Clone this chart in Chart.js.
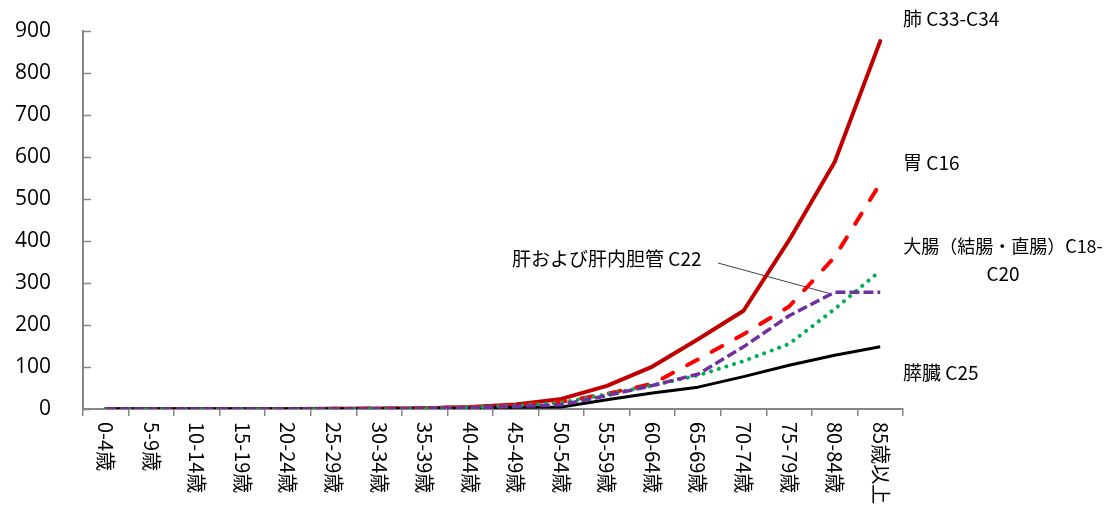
<!DOCTYPE html>
<html>
<head>
<meta charset="utf-8">
<script src="https://cdn.jsdelivr.net/npm/chart.js@4.4.1/dist/chart.umd.min.js"></script>
<style>
  body { margin: 0; background: #fff; }
  #wrap { width: 1112px; height: 512px; position: relative; }
</style>
</head>
<body>
<div id="wrap"><canvas id="chart"></canvas></div>
<script>
// age groups and rates (per 100,000)
const ageGroups = ['0-4歳', '5-9歳', '10-14歳', '15-19歳', '20-24歳', '25-29歳', '30-34歳', '35-39歳', '40-44歳',
  '45-49歳', '50-54歳', '55-59歳', '60-64歳', '65-69歳', '70-74歳', '75-79歳', '80-84歳', '85歳以上'];

const lung       = [0, 0, 0, 0, 0, 0.5, 1, 2, 5, 11, 24, 55, 101, 166, 234, 402, 588, 876];
const stomach    = [0, 0, 0, 0, 0, 0.5, 1, 2, 4, 8, 17, 36, 60, 118, 178, 244, 362, 537];
const colorectal = [0, 0, 0, 0, 0, 0.5, 1, 2, 4, 8, 15, 35, 56, 80, 114, 155, 238, 329];
const liver      = [0, 0, 0, 0, 0, 0, 0.5, 1, 3, 6, 10, 32, 56, 83, 148, 222, 278, 278];
const pancreas   = [0, 0, 0, 0, 0, 0, 0.5, 1, 2, 4, 5, 22, 38, 52, 77, 104, 128, 148];

const yTicks = [0, 100, 200, 300, 400, 500, 600, 700, 800, 900];

const AXIS_COLOR = '#868686';
const JP_FONT = '"Noto Sans CJK JP", "Noto Sans", sans-serif';

// inside y ticks, rotated x labels, series labels
const decorations = {
  id: 'decorations',
  beforeDatasetsDraw(chart) {
    const ctx = chart.ctx;
    const x = chart.scales.x;
    const y = chart.scales.y;
    // leader line for liver label
    ctx.save();
    ctx.strokeStyle = '#404040';
    ctx.lineWidth = 1;
    ctx.beginPath();
    ctx.moveTo(718, 263);
    ctx.lineTo(x.getPixelForValue(16) - 6, y.getPixelForValue(liver[16]) + 1);
    ctx.stroke();
    ctx.restore();
  },
  afterDraw(chart) {
    const ctx = chart.ctx;
    const area = chart.chartArea;
    const x = chart.scales.x;
    const y = chart.scales.y;
    ctx.save();

    // y tick marks drawn inside the plot
    ctx.strokeStyle = AXIS_COLOR;
    ctx.lineWidth = 1.5;
    yTicks.forEach(v => {
      const py = Math.round(y.getPixelForValue(v)) + 0.5;
      ctx.beginPath();
      ctx.moveTo(area.left, py);
      ctx.lineTo(area.left + 8, py);
      ctx.stroke();
    });

    // x labels, rotated to read top to bottom
    ctx.fillStyle = '#000';
    ctx.font = '20px ' + JP_FONT;
    ctx.textAlign = 'left';
    ctx.textBaseline = 'middle';
    ageGroups.forEach((label, i) => {
      ctx.save();
      ctx.translate(x.getPixelForValue(i), area.bottom + 13);
      ctx.rotate(Math.PI / 2);
      ctx.fillText(label, 0, 0);
      ctx.restore();
    });

    // series labels
    ctx.font = '19px ' + JP_FONT;
    ctx.fillText('肺 C33-C34', 903, 19);
    ctx.fillText('胃 C16', 903, 163);
    ctx.fillText('膵臓 C25', 903, 373);
    ctx.fillText('肝および肝内胆管 C22', 512, 259);
    ctx.textAlign = 'center';
    ctx.font = '18px ' + JP_FONT;
    ctx.fillText('大腸（結腸・直腸）C18-', 1003, 246);
    ctx.font = '19px ' + JP_FONT;
    ctx.fillText('C20', 1003, 274);
    ctx.restore();
  }
};

const baseLine = {
  fill: false,
  pointRadius: 0,
  tension: 0,
  borderJoinStyle: 'round'
};

new Chart(document.getElementById('chart'), {
  type: 'line',
  data: {
    labels: ageGroups,
    datasets: [
      { ...baseLine, label: '肝および肝内胆管 C22', data: liver, borderColor: '#7030A0', borderWidth: 3.5, borderDash: [10, 4], borderCapStyle: 'butt' },
      { ...baseLine, label: '大腸（結腸・直腸）C18-C20', data: colorectal, borderColor: '#00B050', borderWidth: 4, borderDash: [0.01, 8], borderCapStyle: 'round' },
      { ...baseLine, label: '膵臓 C25', data: pancreas, borderColor: '#000000', borderWidth: 3 },
      { ...baseLine, label: '胃 C16', data: stomach, borderColor: '#FF0000', borderWidth: 4, borderDash: [12, 16], borderCapStyle: 'round' },
      { ...baseLine, label: '肺 C33-C34', data: lung, borderColor: '#C00000', borderWidth: 4, borderCapStyle: 'round' }
    ]
  },
  options: {
    responsive: true,
    maintainAspectRatio: false,
    animation: false,
    layout: {
      padding: { top: 31, right: 209, left: 0, bottom: 0 }
    },
    plugins: {
      legend: { display: false },
      tooltip: { enabled: false }
    },
    scales: {
      x: {
        offset: true,
        grid: {
          display: true,
          offset: true,
          drawOnChartArea: false,
          drawTicks: true,
          tickLength: 7,
          color: AXIS_COLOR,
          lineWidth: 1.5
        },
        border: { display: true, color: AXIS_COLOR, width: 2 },
        ticks: { display: false },
        afterFit(scale) { scale.height = 103; }
      },
      y: {
        min: 0,
        max: 900,
        afterBuildTicks(scale) { scale.ticks = yTicks.map(v => ({ value: v })); },
        // tick marks themselves are drawn inside by the plugin; tickLength only spaces the labels
        grid: { display: false, drawTicks: true, tickLength: 32 },
        border: { display: true, color: AXIS_COLOR, width: 2 },
        ticks: {
          color: '#000',
          padding: 0,
          font: { family: '"Open Sans", "Liberation Sans", sans-serif', size: 21 }
        },
        afterFit(scale) { scale.width = 83; }
      }
    }
  },
  plugins: [decorations]
});
</script>
</body>
</html>
